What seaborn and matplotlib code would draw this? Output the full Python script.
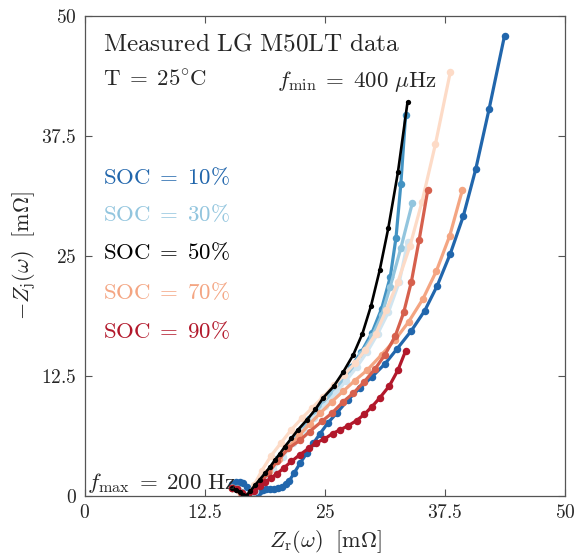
import numpy as np
import pandas as pd
import seaborn as sns
from matplotlib import pyplot as plt

# Nyquist data, from f_max (bottom left) to f_min (top)
zr_10 = [15.3, 15.7, 16.1, 16.5, 16.9, 17.3, 17.7, 18.1, 18.5, 18.9, 19.3, 19.7, 20.1, 20.5, 20.9, 21.3,
         21.8, 22.4, 23.1, 23.8, 24.5, 25.3, 26.2, 27.4, 28.6, 29.9, 31.25, 32.5, 34.0, 35.4, 36.7, 38.05,
         39.4, 40.7, 42.1, 43.7]
zj_10 = [1.2, 1.45, 1.5, 1.3, 0.9, 0.5, 0.35, 0.45, 0.6, 0.7, 0.75, 0.75, 0.8, 0.95, 1.2, 1.6,
         2.4, 3.4, 4.45, 5.5, 6.5, 7.6, 8.6, 10.0, 11.2, 12.4, 13.75, 15.3, 17.2, 19.3, 21.9, 25.2,
         29.1, 34.0, 40.3, 47.9]

zr_20 = [15.3, 15.8, 16.3, 16.8, 17.4, 18.1, 19.0, 20.0, 21.1, 22.2, 23.3, 24.4, 25.5, 26.6, 27.7, 28.8,
         29.9, 30.9, 31.8, 32.4, 32.9, 33.4]
zj_20 = [0.9, 0.8, 0.4, 0.0, 0.3, 1.2, 2.4, 3.8, 5.2, 6.6, 8.0, 9.3, 10.6, 12.0, 13.4, 15.0,
         17.0, 19.5, 22.8, 26.9, 32.45, 39.6]

zr_30 = [15.3, 15.8, 16.3, 16.8, 17.4, 18.2, 19.1, 20.1, 21.1, 22.2, 23.3, 24.4, 25.5, 26.6, 27.7, 28.8,
         29.9, 30.9, 31.8, 32.9, 34.1]
zj_30 = [0.8, 0.7, 0.35, 0.0, 0.3, 1.3, 2.5, 3.8, 5.2, 6.6, 7.9, 9.2, 10.5, 11.8, 13.2, 14.8,
         16.6, 18.8, 21.8, 25.8, 30.5]

zr_40 = [15.3, 15.8, 16.3, 17.0, 17.7, 18.6, 19.6, 20.6, 21.7, 22.8, 23.9, 25.0, 26.1, 27.2, 28.3, 29.4,
         30.5, 31.6, 32.75, 33.6]
zj_40 = [0.8, 0.7, 0.35, 0.0, 0.5, 1.6, 2.8, 4.1, 5.5, 6.8, 8.1, 9.4, 10.7, 12.0, 13.4, 15.0,
         16.9, 19.1, 22.3, 26.4]

zr_50 = [15.3, 15.7, 16.1, 16.5, 16.8, 17.2, 17.7, 18.2, 18.75, 19.3, 19.8, 20.3, 20.8, 21.5, 22.2, 23.1,
         24.0, 24.8, 25.9, 26.9, 27.95, 28.9, 29.8, 30.7, 31.6, 32.6, 33.6]
zj_50 = [0.8, 0.65, 0.45, 0.15, 0.0, 0.5, 1.1, 1.7, 2.35, 3.05, 3.75, 4.4, 5.1, 6.0, 6.9, 7.9,
         9.0, 10.2, 11.4, 12.9, 14.7, 16.9, 19.8, 23.5, 27.9, 33.7, 41.0]

zr_60 = [15.3, 15.8, 16.3, 16.9, 17.6, 18.4, 19.4, 20.4, 21.5, 22.6, 23.7, 24.8, 25.9, 27.0, 28.1, 29.2,
         30.3, 31.4, 32.6, 33.85, 35.1, 36.5, 38.05]
zj_60 = [0.8, 0.7, 0.35, 0.0, 1.1, 2.6, 4.2, 5.5, 6.9, 8.1, 9.2, 10.3, 11.5, 12.6, 13.8, 15.2,
         16.9, 19.4, 22.3, 26.0, 30.6, 36.6, 44.1]

zr_70 = [15.3, 15.8, 16.3, 16.9, 17.5, 18.3, 19.2, 20.2, 21.2, 22.3, 23.4, 24.5, 25.7, 26.9, 28.1, 29.4,
         30.9, 32.3, 33.7, 35.2, 36.6, 38.0, 39.3]
zj_70 = [0.8, 0.7, 0.35, 0.0, 0.55, 1.5, 2.6, 3.8, 5.1, 6.3, 7.5, 8.6, 9.8, 10.9, 12.0, 13.1,
         14.7, 16.25, 18.1, 20.5, 23.4, 27.1, 31.8]

zr_80 = [15.3, 15.8, 16.4, 17.0, 17.6, 18.3, 19.1, 20.0, 21.2, 22.4, 23.4, 24.65, 25.7, 26.9, 27.95, 29.1,
         30.2, 31.25, 32.3, 33.2, 34.0, 34.8, 35.7]
zj_80 = [0.8, 0.7, 0.3, 0.0, 0.6, 1.4, 2.4, 3.6, 4.95, 5.8, 6.7, 7.75, 8.6, 9.8, 10.7, 11.9,
         13.2, 14.7, 16.6, 19.1, 22.3, 26.6, 31.8]

zr_90 = [15.3, 15.8, 16.4, 17.0, 17.6, 18.2, 18.8, 19.4, 20.0, 20.7, 21.5, 22.4, 23.3, 24.1, 24.9, 25.8,
         26.6, 27.4, 28.3, 29.1, 29.9, 30.7, 31.7, 32.6, 33.4]
zj_90 = [0.8, 0.7, 0.3, 0.0, 0.5, 1.0, 1.45, 1.9, 2.3, 2.9, 3.6, 4.3, 4.95, 5.55, 5.9, 6.5,
         6.9, 7.3, 7.85, 8.5, 9.3, 10.2, 11.45, 13.1, 15.1]

soc_levels = [10, 20, 30, 40, 50, 60, 70, 80, 90]
soc_colors = ["#2166ac", "#4393c3", "#92c5de", "#d1e5f0", "#000000",
              "#fddbc7", "#f4a582", "#d6604d", "#b2182b"]
labelled_soc = [10, 30, 50, 70, 90]
ticks = [0, 12.5, 25, 37.5, 50]
tick_labels = ["$0$", "$12.5$", "$25$", "$37.5$", "$50$"]


def main():
    sns.set_theme(style="ticks")
    plt.rcParams["mathtext.fontset"] = "cm"
    plt.rcParams["font.family"] = ["DejaVu Serif"]

    curves = {10: (zr_10, zj_10), 20: (zr_20, zj_20), 30: (zr_30, zj_30), 40: (zr_40, zj_40),
              50: (zr_50, zj_50), 60: (zr_60, zj_60), 70: (zr_70, zj_70), 80: (zr_80, zj_80),
              90: (zr_90, zj_90)}
    colors = dict(zip(soc_levels, soc_colors))

    fig = plt.figure(figsize=(5.78, 5.56), dpi=100)
    ax = fig.add_axes([0.147, 0.108, 0.8305, 0.864])

    # black (50%) drawn last so it sits on top
    for soc in [10, 20, 30, 40, 60, 70, 80, 90, 50]:
        zr, zj = curves[soc]
        df = pd.DataFrame({"zr": zr, "zj": zj})
        small = soc == 50
        sns.lineplot(data=df, x="zr", y="zj", sort=False, estimator=None, ax=ax,
                     color=colors[soc], marker="o", markersize=3.8 if small else 5.4,
                     markeredgewidth=0, linewidth=1.9 if small else 2.3)

    ax.set_xlim(0, 50)
    ax.set_ylim(0, 50)
    ax.set_xticks(ticks)
    ax.set_xticklabels(tick_labels)
    ax.set_yticks(ticks)
    ax.set_yticklabels(tick_labels)
    ax.tick_params(direction="in", top=True, right=True, length=5, width=0.8,
                   color="#555555", labelsize=14, pad=6)
    for s in ax.spines.values():
        s.set_color("#555555")
        s.set_linewidth(0.9)

    ax.set_xlabel(r"$Z_\mathrm{r}(\omega)\ \ [\mathrm{m}\Omega]$", fontsize=16, labelpad=4)
    ax.set_ylabel(r"$-Z_\mathrm{j}(\omega)\ \ [\mathrm{m}\Omega]$", fontsize=16, labelpad=2)

    fs = 16.5
    ax.text(1.9, 47.0, r"$\mathrm{Measured\ LG\ M50LT\ data}$", fontsize=18.2, va="center")
    ax.text(1.9, 43.2, r"$\mathrm{T}\;=\;25^{\circ}\mathrm{C}$", fontsize=fs, va="center")
    ax.text(20.0, 43.1, r"$f_\mathrm{min}\;=\;400\ \mu\mathrm{Hz}$", fontsize=fs, va="center")
    ax.text(0.2, 1.35, r"$f_\mathrm{max}\;=\;200\ \mathrm{Hz}$", fontsize=fs, va="center")

    label_y = [33.1, 29.2, 25.3, 21.1, 17.1]
    for soc, yy in zip(labelled_soc, label_y):
        ax.text(1.9, yy, r"$\mathrm{SOC}\;=\;%d\%%$" % soc, fontsize=fs, va="center",
                color=colors[soc])

    fig.savefig("out.png", dpi=100)
    plt.close(fig)


if __name__ == '__main__':
    main()
